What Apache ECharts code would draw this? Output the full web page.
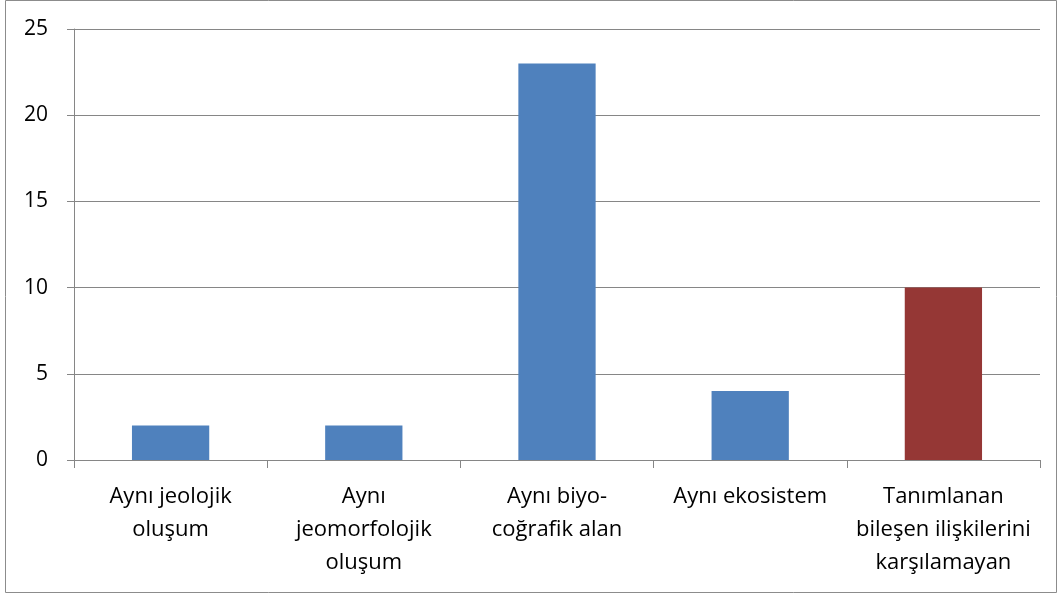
<!DOCTYPE html>
<html>
<head>
<meta charset="utf-8">
<script src="https://cdn.jsdelivr.net/npm/echarts@6/dist/echarts.min.js"></script>
<style>
  html, body { margin: 0; padding: 0; background: #fff; }
  #chart { width: 1062px; height: 597px; }
</style>
</head>
<body>
<div id="chart"></div>
<script>
// kategoriler ve degerler
var categories = [
  'Aynı jeolojik\noluşum',
  'Aynı\njeomorfolojik\noluşum',
  'Aynı biyo-\ncoğrafik alan',
  'Aynı ekosistem',
  'Tanımlanan\nbileşen ilişkilerini\nkarşılamayan'
];
var values = [2, 2, 23, 4, 10];
var yTicks = [0, 5, 10, 15, 20, 25];

var chart = echarts.init(document.getElementById('chart'));
var option = {
  backgroundColor: '#fff',
  animation: false,
  textStyle: { fontFamily: '"Open Sans", sans-serif' },
  graphic: [{
    type: 'rect',
    shape: { x: 5.5, y: 0.5, width: 1051, height: 592 },
    style: { fill: 'none', stroke: '#8c8c8c', lineWidth: 1 }
  }],
  grid: { left: 74, right: 22, top: 29, bottom: 137 },
  xAxis: {
    type: 'category',
    data: categories,
    axisLine: { lineStyle: { color: '#868686', width: 1 } },
    axisTick: { show: true, length: 8, lineStyle: { color: '#868686' } },
    axisLabel: {
      color: '#000', fontSize: 22, lineHeight: 33, margin: 20,
      interval: 0
    }
  },
  yAxis: {
    type: 'value',
    min: yTicks[0],
    max: yTicks[yTicks.length - 1],
    interval: 5,
    axisLine: { show: true, lineStyle: { color: '#868686', width: 1 } },
    axisTick: { show: true, length: 7, lineStyle: { color: '#868686' } },
    splitLine: { lineStyle: { color: '#868686', width: 1 } },
    axisLabel: { color: '#000', fontSize: 21, margin: 26 }
  },
  series: [{
    type: 'bar',
    data: values,
    barWidth: '40%',
    itemStyle: {
      color: function (p) { return p.dataIndex === 4 ? '#953735' : '#4f81bd'; }
    }
  }]
};
chart.setOption(option);
</script>
</body>
</html>
